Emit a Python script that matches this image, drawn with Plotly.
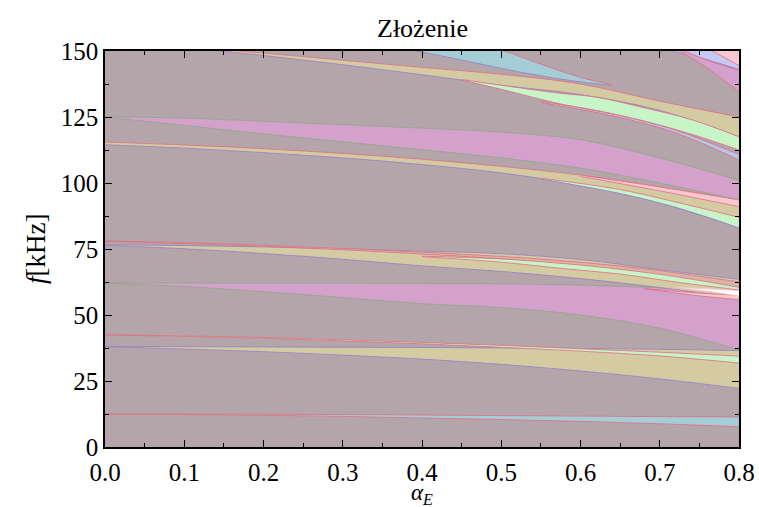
import plotly.graph_objects as go

# Pass-band map of the composite structure: frequency bands f [kHz] versus alpha_E.
X = [0.0, 0.1, 0.2, 0.3, 0.4, 0.5, 0.6, 0.7, 0.8]

# lowest band (~12.5 kHz)
d_x = X
d_hi = [12.6, 12.5, 12.4, 12.3, 12.1, 11.9, 11.7, 11.5, 11.4]
d_lo = [12.5, 12.3, 12.0, 11.6, 11.0, 10.4, 9.7, 8.8, 7.7]

# band starting at 38 kHz
e_x = X
e_hi = [38.1, 38.0, 37.9, 37.8, 37.7, 37.5, 37.3, 37.0, 36.5]
e_lo = [38.0, 37.1, 36.1, 34.8, 33.3, 31.3, 28.8, 25.8, 22.2]

# narrow band starting at 42.5 kHz
f_x = X
f_hi = [42.5, 42.1, 41.5, 40.6, 39.6, 38.5, 37.2, 35.9, 34.4]
f_lo = [42.4, 41.9, 41.2, 40.2, 39.1, 37.8, 36.3, 34.5, 31.8]

# band opening from 62 kHz
a_x = X
a_hi = [62.1, 62.1, 62.1, 62.1, 62.0, 61.8, 61.3, 60.3, 58.5]
a_lo = [62.0, 60.8, 58.8, 56.6, 54.3, 52.8, 50.0, 45.0, 36.7]

# band starting at 76.5 kHz
g_x = X
g_hi = [76.6, 76.3, 75.8, 75.1, 74.2, 73.2, 71.0, 67.2, 63.5]
g_lo = [76.4, 75.1, 73.3, 71.1, 68.6, 66.5, 63.8, 60.4, 56.5]

# inner stripe of the 76.5 kHz band
k2_x = [0.4, 0.5, 0.574, 0.65, 0.72, 0.8]
k2_hi = [72.3, 71.3, 70.2, 68.3, 65.5, 62.0]
k2_lo = [72.1, 70.0, 67.7, 65.5, 62.5, 59.5]

# narrow band starting at 78 kHz
h_x = X
h_hi = [78.1, 77.4, 76.4, 75.2, 73.8, 72.2, 70.0, 66.8, 62.5]
h_lo = [77.9, 77.1, 76.0, 74.7, 73.1, 71.3, 68.9, 65.4, 60.5]

# small wedges near 58 kHz
q_x = [0.68, 0.74, 0.8]
q_hi = [60.0, 58.5, 57.4]
q_lo = [60.0, 57.6, 55.8]
w_x = [0.72, 0.76, 0.8]
w_hi = [60.5, 59.9, 59.2]
w_lo = [60.5, 59.0, 57.2]

# band starting at 115 kHz
c_x = X
c_hi = [115.5, 114.4, 113.0, 111.2, 109.0, 106.3, 103.0, 98.5, 93.6]
c_lo = [114.5, 113.2, 111.5, 109.5, 107.0, 103.8, 99.2, 92.5, 83.0]
cp_x = [0.6, 0.7, 0.8]
cp_hi = [103.0, 98.5, 93.6]
cp_lo = [102.5, 97.0, 91.0]
cg_x = [0.55, 0.65, 0.72, 0.8]
cg_hi = [101.8, 97.5, 92.8, 87.0]
cg_lo = [101.5, 96.0, 90.8, 83.0]

# band opening from 125 kHz
b_x = X
b_hi = [125.1, 124.6, 123.4, 122.1, 120.8, 119.3, 116.4, 109.5, 101.0]
b_lo = [125.0, 121.8, 118.6, 115.6, 112.6, 109.5, 105.6, 100.0, 93.6]

# upper bands entering from the top
i_x = [0.1, 0.2, 0.3, 0.4, 0.5, 0.6, 0.7, 0.8]
i_hi = [152.0, 149.2, 146.5, 143.8, 141.2, 137.5, 131.0, 125.0]
i_lo = [151.5, 148.3, 144.8, 141.0, 137.0, 133.5, 127.5, 117.5]

k_x = [0.45, 0.5, 0.574, 0.62, 0.68, 0.74, 0.8]
k_hi = [139.2, 137.0, 134.0, 132.5, 128.5, 124.0, 117.5]
k_lo = [139.0, 135.5, 130.0, 127.5, 123.5, 118.5, 112.5]

m_x = [0.55, 0.65, 0.72, 0.8]
m_hi = [131.0, 125.5, 120.0, 110.8]
m_lo = [130.5, 124.8, 119.0, 108.7]

j_x = [0.38, 0.45, 0.5, 0.55, 0.6, 0.64]
j_hi = [156.0, 154.0, 150.3, 145.0, 140.0, 137.2]
j_lo = [150.8, 146.6, 143.4, 140.6, 138.3, 137.0]

n_x = [0.7, 0.75, 0.8]
n_hi = [152.0, 152.0, 152.0]
n_lo = [151.0, 147.5, 143.0]

o_x = [0.72, 0.76, 0.8]
o_hi = [151.5, 146.5, 142.8]
o_lo = [151.0, 143.5, 134.5]

p_x = [0.76, 0.8]
p_hi = [152.0, 152.0]
p_lo = [151.0, 144.5]

BG = "#b4a5ab"
TAN = "#d5cba3"
MAG = "#d4a0cc"
CYAN = "#a5cdd5"
GREEN = "#c8f5c8"
LAV = "#c8c8f5"
LPINK = "#f7c8cf"
WHITE = "#ffffff"
SALMON = "#d9b3a6"
LBLUE = "#b3c6e6"

PURPLE = "rgba(150,130,195,0.85)"
RED = "rgba(222,110,130,0.8)"
GRN = "rgba(150,165,140,0.9)"

bands = [
    (d_x, d_lo, d_hi, CYAN, RED, RED),
    (e_x, e_lo, e_hi, TAN, PURPLE, PURPLE),
    (f_x, f_lo, f_hi, GREEN, RED, RED),
    (a_x, a_lo, a_hi, MAG, GRN, GRN),
    (g_x, g_lo, g_hi, TAN, PURPLE, PURPLE),
    (k2_x, k2_lo, k2_hi, GREEN, RED, RED),
    (h_x, h_lo, h_hi, SALMON, RED, RED),
    (q_x, q_lo, q_hi, LPINK, RED, RED),
    (w_x, w_lo, w_hi, WHITE, LPINK, LPINK),
    (c_x, c_lo, c_hi, TAN, PURPLE, RED),
    (cp_x, cp_lo, cp_hi, LPINK, RED, RED),
    (cg_x, cg_lo, cg_hi, GREEN, PURPLE, RED),
    (b_x, b_lo, b_hi, MAG, GRN, GRN),
    (i_x, i_lo, i_hi, TAN, PURPLE, RED),
    (k_x, k_lo, k_hi, GREEN, RED, RED),
    (m_x, m_lo, m_hi, LBLUE, RED, RED),
    (j_x, j_lo, j_hi, CYAN, PURPLE, RED),
    (n_x, n_lo, n_hi, LAV, PURPLE, PURPLE),
    (o_x, o_lo, o_hi, MAG, RED, RED),
    (p_x, p_lo, p_hi, LPINK, RED, RED),
]

fig = go.Figure()
for bx, lo, hi, fillc, lc_lo, lc_hi in bands:
    fig.add_trace(go.Scatter(
        x=bx, y=lo, mode="lines", line=dict(color=lc_lo, width=1, shape="spline"),
        hoverinfo="skip", showlegend=False))
    fig.add_trace(go.Scatter(
        x=bx, y=hi, mode="lines", line=dict(color=lc_hi, width=1, shape="spline"),
        fill="tonexty", fillcolor=fillc, hoverinfo="skip", showlegend=False))

FONT = "'Liberation Serif', 'Times New Roman', 'DejaVu Serif', serif"
axis_common = dict(
    showline=True, linecolor="black", linewidth=1.5, mirror="allticks",
    ticks="inside", ticklen=7, tickwidth=1.2, tickcolor="black",
    showgrid=False, zeroline=False, automargin=False,
    tickfont=dict(family=FONT, size=25, color="black"),
)

fig.update_layout(
    width=759, height=507,
    margin=dict(l=105, r=20, t=51, b=60, autoexpand=False),
    paper_bgcolor="white", plot_bgcolor=BG,
    font=dict(family=FONT, color="black"),
    xaxis=dict(range=[0, 0.8], dtick=0.1, tickformat=".1f",
               minor=dict(ticks="inside", ticklen=4, dtick=0.05, tickcolor="black"),
               ticklabelstandoff=2,
               **axis_common),
    yaxis=dict(range=[0, 150], dtick=25,
               minor=dict(ticks="inside", ticklen=4, dtick=12.5, tickcolor="black"),
               **axis_common),
)

# Titles as paper annotations so they share the serif face of the tick labels
fig.add_annotation(text="Złożenie", x=0.5, y=1.0, xref="paper", yref="paper",
                   yanchor="bottom", yshift=6, showarrow=False,
                   font=dict(family=FONT, size=26, color="black"))
fig.add_annotation(text="<i>α<sub>E</sub></i>", x=0.5, y=0.0, xref="paper", yref="paper",
                   yanchor="top", yshift=-31, showarrow=False,
                   font=dict(family=FONT, size=23, color="black"))
fig.add_annotation(text="<i>f</i>[kHz]", x=0.0, y=0.5, xref="paper", yref="paper",
                   xanchor="right", xshift=-52, textangle=-90, showarrow=False,
                   font=dict(family=FONT, size=27, color="black"))

fig.write_html("out.html")
